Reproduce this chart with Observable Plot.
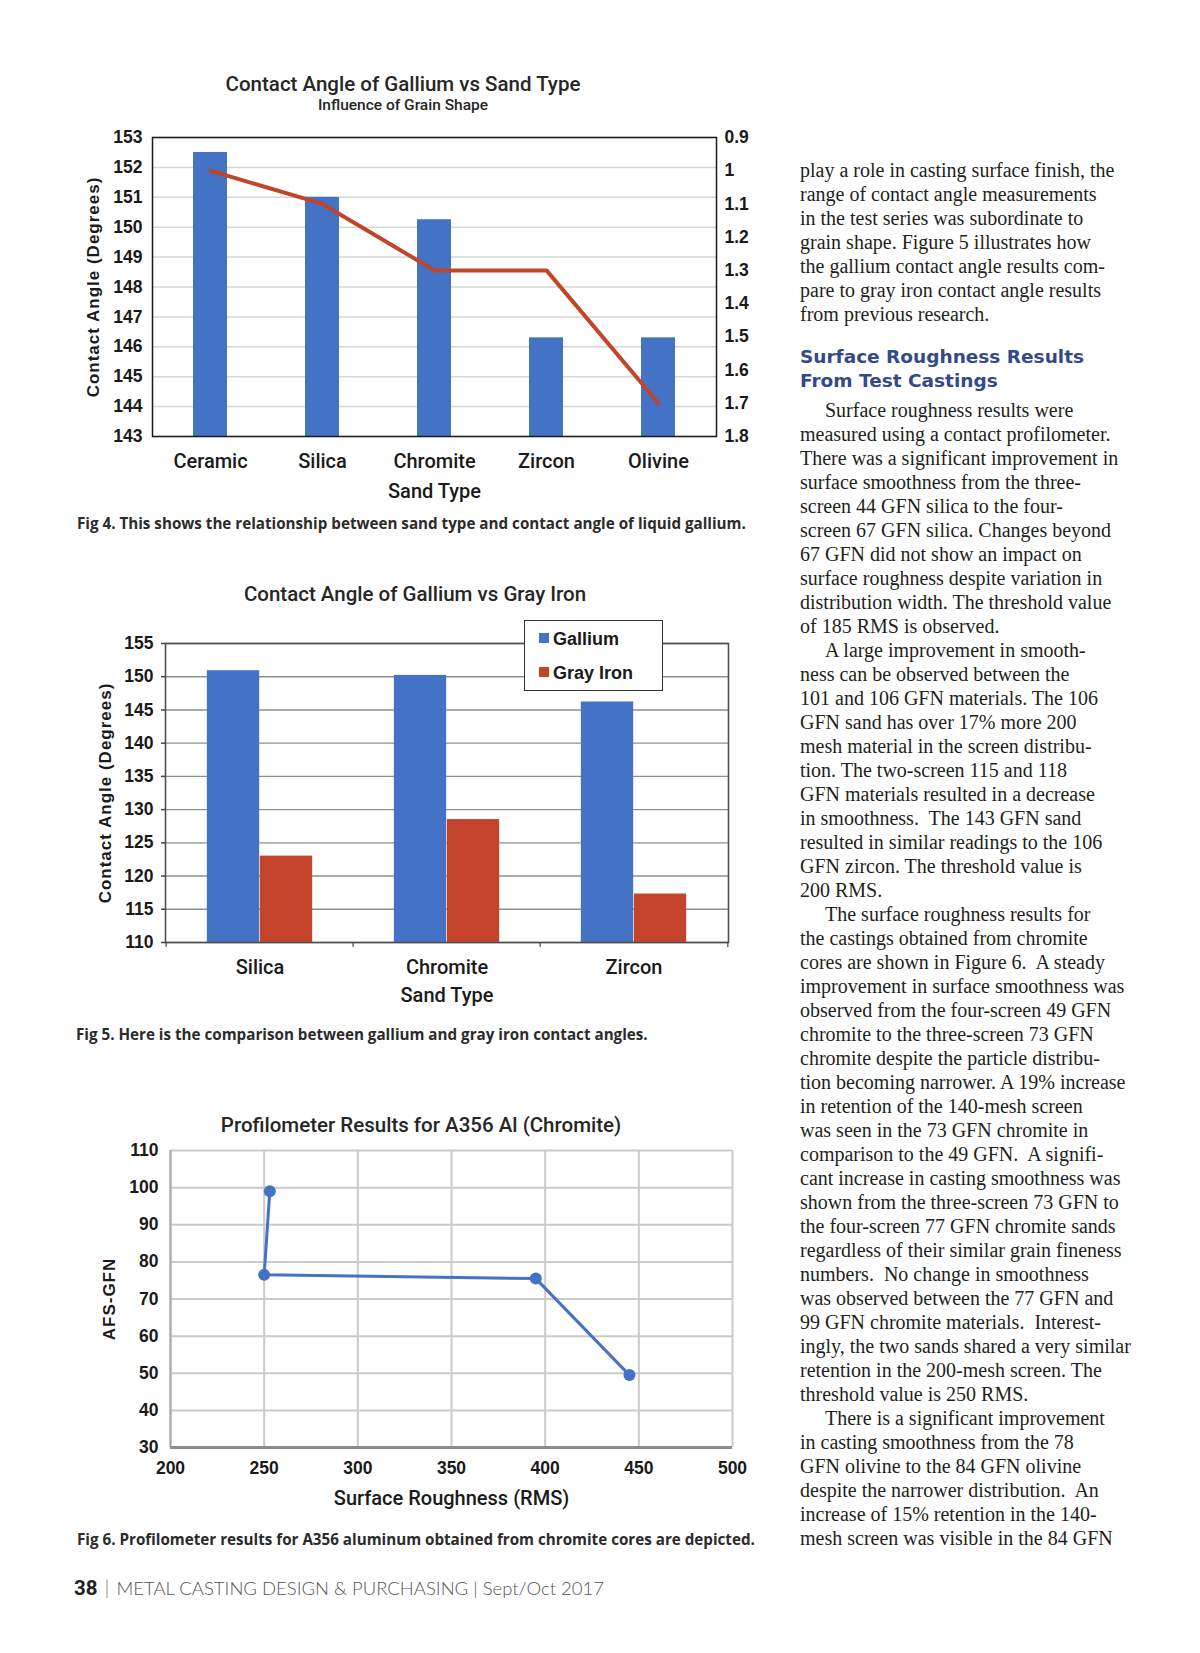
<!DOCTYPE html>
<html><head><meta charset="utf-8">
<script src="https://cdn.jsdelivr.net/npm/d3@7"></script>
<script src="https://cdn.jsdelivr.net/npm/@observablehq/plot@0.6"></script>
<style>
body{margin:0;background:#fff;}
#page{position:relative;width:1200px;height:1653px;background:#fff;overflow:hidden;color:#231f20}
.abs{position:absolute;white-space:nowrap;line-height:1}
.ttl{font-family:Roboto,"Liberation Sans",sans-serif;font-weight:500;color:#262626;transform:translateX(-50%)}
.cap{font-family:"Open Sans",Roboto,"Liberation Sans",sans-serif;font-weight:700;font-size:15.2px;color:#2b2b2b}
.chart{position:absolute}
.chart svg{overflow:visible}
#c1 g[aria-label="y-axis label"] text,#c2 g[aria-label="y-axis label"] text,#c3 g[aria-label="y-axis label"] text{font:bold 17px "Liberation Sans",Arial,sans-serif;letter-spacing:1px}
#c3 g[aria-label="x-axis label"] text{font:500 20px Roboto,"Liberation Sans",sans-serif}
#col{position:absolute;left:800px;top:0;font-family:"Liberation Serif","Times New Roman",serif;font-size:20px;color:#231f20}
#col .blk{position:absolute;left:0;line-height:24px;white-space:pre}
#col .ind{padding-left:25px}
#head{position:absolute;left:800px;top:344.5px;font-family:"DejaVu Sans",sans-serif;font-weight:bold;font-size:18.5px;line-height:24.3px;color:#34498a;white-space:pre}
#legend{position:absolute;left:524px;top:620px;width:137px;height:69px;border:1px solid #333;background:#fff}
#legend .sw{position:absolute;width:10px;height:10px}
#legend .lt{position:absolute;font:bold 18px "Liberation Sans",Arial,sans-serif;line-height:1;color:#1a1a1a;white-space:nowrap}
</style></head>
<body><div id="page">
<div class="abs ttl" style="left:403px;top:74px;font-size:20.5px">Contact Angle of Gallium vs Sand Type</div>
<div class="abs ttl" style="left:403px;top:97.5px;font-size:15.5px">Influence of Grain Shape</div>
<div class="chart" id="c1" style="left:60px;top:110px"></div>
<div class="abs cap" style="left:77px;top:516px">Fig 4. This shows the relationship between sand type and contact angle of liquid gallium.</div>

<div class="abs ttl" style="left:415px;top:584px;font-size:20.5px">Contact Angle of Gallium vs Gray Iron</div>
<div class="chart" id="c2" style="left:60px;top:600px"></div>
<div id="legend"></div>
<div class="abs cap" style="left:76px;top:1026.5px">Fig 5. Here is the comparison between gallium and gray iron contact angles.</div>

<div class="abs ttl" style="left:421px;top:1115px;font-size:20.5px">Profilometer Results for A356 Al (Chromite)</div>
<div class="chart" id="c3" style="left:60px;top:1100px"></div>
<div class="abs cap" style="left:77px;top:1532px">Fig 6. Profilometer results for A356 aluminum obtained from chromite cores are depicted.</div>

<div class="abs" style="left:74px;top:1577px;font-size:20.5px"><span style="font-family:Roboto,sans-serif;font-weight:700;color:#222">38</span><span style="font-family:Lato,sans-serif;font-weight:300;color:#777;margin:0 7px">|</span><span style="font-family:Lato,sans-serif;font-weight:300;color:#555;font-size:18.5px">METAL CASTING DESIGN &amp; PURCHASING | Sept/Oct 2017</span></div>

<div id="head">Surface Roughness Results
From Test Castings</div>
<div id="col"></div>
</div>
<script>
// ---------- Fig 4 data ----------
const sands1 = ["Ceramic", "Silica", "Chromite", "Zircon", "Olivine"];
const angle1 = [152.5, 151.0, 150.25, 146.3, 146.3];
const ratio1 = [1.0, 1.1, 1.3, 1.3, 1.7];          // secondary (right, reversed) axis
const yTicks1 = [143, 144, 145, 146, 147, 148, 149, 150, 151, 152, 153];
const rightTicks1 = [0.9, 1.0, 1.1, 1.2, 1.3, 1.4, 1.5, 1.6, 1.7, 1.8];

// ---------- Fig 5 data ----------
const sands2 = ["Silica", "Chromite", "Zircon"];
const series2 = ["Gallium", "Gray Iron"];
const gallium2 = [150.9, 150.2, 146.2];
const grayIron2 = [123.0, 128.5, 117.3];
const yTicks2 = [110, 115, 120, 125, 130, 135, 140, 145, 150, 155];

// ---------- Fig 6 data ----------
const rms3 = [253, 250, 395, 445];
const gfn3 = [99, 76.5, 75.5, 49.5];
const xTicks3 = [200, 250, 300, 350, 400, 450, 500];
const yTicks3 = [30, 40, 50, 60, 70, 80, 90, 100, 110];

const BLUE = "#4472C4", RED = "#C0462B";
const colors2 = [BLUE, "#C3432B"];
const tickFont = {fontFamily: "'Liberation Sans', Arial, sans-serif", fontWeight: "bold", fontSize: 17.5};
const catFont = {fontFamily: "Roboto, 'Liberation Sans', sans-serif", fontWeight: 500, fontSize: 20};
const baseStyle = {background: "transparent", color: "#1a1a1a", overflow: "visible"};

// ---------- Chart 1 ----------
const data1 = sands1.map((s, i) => ({sand: s, angle: angle1[i], ratio: ratio1[i]}));
const r2l = d3.scaleLinear().domain([rightTicks1[0], rightTicks1[rightTicks1.length - 1]]).range([yTicks1[yTicks1.length - 1], yTicks1[0]]);
const fmtR = d3.format(".1~f");
const c1 = Plot.plot({
  width: 700, height: 400,
  marginLeft: 92, marginRight: 44, marginTop: 27, marginBottom: 74,
  style: baseStyle,
  x: {domain: sands1, paddingInner: 0.7, paddingOuter: 0.35},
  y: {domain: [yTicks1[0], yTicks1[yTicks1.length - 1]]},
  marks: [
    Plot.gridY(yTicks1, {stroke: "#d6d6d6", strokeOpacity: 1, strokeWidth: 1.5}),
    Plot.barY(data1, {x: "sand", y1: yTicks1[0], y2: "angle", fill: BLUE}),
    Plot.line(data1, {x: "sand", y: d => r2l(d.ratio), stroke: RED, strokeWidth: 4, strokeLinejoin: "round"}),
    Plot.frame({stroke: "#1a1a1a", strokeWidth: 1.5}),
    Plot.axisY(yTicks1, {anchor: "left", tickSize: 0, tickPadding: 10, ...tickFont,
      label: "Contact Angle (Degrees)", labelAnchor: "center", labelOffset: 66, labelArrow: "none"}),
    Plot.axisY(rightTicks1.map(r2l), {anchor: "right", tickSize: 0, tickPadding: 8, ...tickFont,
      tickFormat: v => fmtR(r2l.invert(v)), label: null}),
    Plot.axisX({tickSize: 0, tickPadding: 17, ...catFont,
      label: "Sand Type", labelAnchor: "center", labelOffset: 61, labelArrow: "none"})
  ]
});
document.getElementById("c1").append(c1);

// ---------- Chart 2 ----------
const data2 = sands2.flatMap((s, i) => [
  {sand: s, series: series2[0], v: gallium2[i]},
  {sand: s, series: series2[1], v: grayIron2[i]}
]);
const W2 = 700, ML2 = 105, MR2 = 32;
const step2 = (W2 - ML2 - MR2) / sands2.length;
const barW2 = 53;
const c2 = Plot.plot({
  width: W2, height: 420,
  marginLeft: ML2, marginRight: MR2, marginTop: 43, marginBottom: 78,
  style: baseStyle,
  x: {domain: sands2, padding: 0},
  y: {domain: [yTicks2[0], yTicks2[yTicks2.length - 1]]},
  marks: [
    Plot.gridY(yTicks2, {stroke: "#8f8f8f", strokeOpacity: 1, strokeWidth: 1.4}),
    Plot.barY(data2.filter(d => d.series === series2[0]), {x: "sand", y1: yTicks2[0], y2: "v", fill: colors2[0],
      insetLeft: step2 / 2 - barW2, insetRight: step2 / 2}),
    Plot.barY(data2.filter(d => d.series === series2[1]), {x: "sand", y1: yTicks2[0], y2: "v", fill: colors2[1],
      insetLeft: step2 / 2, insetRight: step2 / 2 - barW2}),
    Plot.frame({stroke: "#505050", strokeWidth: 1.6}),
    Plot.axisY(yTicks2, {anchor: "left", tickSize: 4, tickPadding: 8, stroke: "#444", strokeWidth: 1.5, ...tickFont,
      label: "Contact Angle (Degrees)", labelAnchor: "center", labelOffset: 67, labelArrow: "none"}),
    Plot.axisX(sands2, {tickSize: 5, tickFormat: () => "", dx: -step2 / 2, stroke: "#444", strokeWidth: 1.2, label: null}),
    Plot.axisX([sands2[sands2.length - 1]], {tickSize: 5, tickFormat: () => "", dx: step2 / 2, stroke: "#444", strokeWidth: 1.2, label: null}),
    Plot.axisX({tickSize: 0, tickPadding: 17, ...catFont,
      label: "Sand Type", labelAnchor: "center", labelOffset: 59, labelArrow: "none"})
  ]
});
document.getElementById("c2").append(c2);

// legend for chart 2 (built from series + colours)
const leg = document.getElementById("legend");
series2.forEach((name, i) => {
  const sw = document.createElement("div");
  sw.className = "sw"; sw.style.background = colors2[i];
  sw.style.left = "14px"; sw.style.top = (12 + i * 34) + "px";
  const t = document.createElement("div");
  t.className = "lt"; t.textContent = name;
  t.style.left = "28px"; t.style.top = (8.5 + i * 34) + "px";
  leg.append(sw, t);
});

// ---------- Chart 3 ----------
const data3 = rms3.map((x, i) => ({rms: x, gfn: gfn3[i]}));
const c3 = Plot.plot({
  width: 700, height: 420,
  marginLeft: 110, marginRight: 28, marginTop: 50, marginBottom: 73,
  style: baseStyle,
  x: {domain: [xTicks3[0], xTicks3[xTicks3.length - 1]]},
  y: {domain: [yTicks3[0], yTicks3[yTicks3.length - 1]]},
  marks: [
    Plot.gridX(xTicks3, {stroke: "#cbcbcb", strokeOpacity: 1, strokeWidth: 2}),
    Plot.gridY(yTicks3, {stroke: "#cbcbcb", strokeOpacity: 1, strokeWidth: 2}),
    Plot.ruleX([xTicks3[0]], {stroke: "#a8a8a8", strokeWidth: 2}),
    Plot.ruleY([yTicks3[0]], {stroke: "#8c8c8c", strokeWidth: 3}),
    Plot.line(data3, {x: "rms", y: "gfn", stroke: BLUE, strokeWidth: 3}),
    Plot.dot(data3, {x: "rms", y: "gfn", r: 6, fill: BLUE, stroke: null}),
    Plot.axisY(yTicks3, {anchor: "left", tickSize: 0, tickPadding: 12, ...tickFont,
      label: "AFS-GFN", labelAnchor: "center", labelOffset: 68, labelArrow: "none"}),
    Plot.axisX(xTicks3, {tickSize: 0, tickPadding: 14, ...tickFont,
      label: "Surface Roughness (RMS)", labelAnchor: "center", labelOffset: 57, labelArrow: "none"})
  ]
});
document.getElementById("c3").append(c3);

// ---------- Right column text ----------
const para1 = [
  "play a role in casting surface finish, the",
  "range of contact angle measurements",
  "in the test series was subordinate to",
  "grain shape. Figure 5 illustrates how",
  "the gallium contact angle results com-",
  "pare to gray iron contact angle results",
  "from previous research."
];
const para2 = [
  ">Surface roughness results were",
  "measured using a contact profilometer.",
  "There was a significant improvement in",
  "surface smoothness from the three-",
  "screen 44 GFN silica to the four-",
  "screen 67 GFN silica. Changes beyond",
  "67 GFN did not show an impact on",
  "surface roughness despite variation in",
  "distribution width. The threshold value",
  "of 185 RMS is observed.",
  ">A large improvement in smooth-",
  "ness can be observed between the",
  "101 and 106 GFN materials. The 106",
  "GFN sand has over 17% more 200",
  "mesh material in the screen distribu-",
  "tion. The two-screen 115 and 118",
  "GFN materials resulted in a decrease",
  "in smoothness.  The 143 GFN sand",
  "resulted in similar readings to the 106",
  "GFN zircon. The threshold value is",
  "200 RMS.",
  ">The surface roughness results for",
  "the castings obtained from chromite",
  "cores are shown in Figure 6.  A steady",
  "improvement in surface smoothness was",
  "observed from the four-screen 49 GFN",
  "chromite to the three-screen 73 GFN",
  "chromite despite the particle distribu-",
  "tion becoming narrower. A 19% increase",
  "in retention of the 140-mesh screen",
  "was seen in the 73 GFN chromite in",
  "comparison to the 49 GFN.  A signifi-",
  "cant increase in casting smoothness was",
  "shown from the three-screen 73 GFN to",
  "the four-screen 77 GFN chromite sands",
  "regardless of their similar grain fineness",
  "numbers.  No change in smoothness",
  "was observed between the 77 GFN and",
  "99 GFN chromite materials.  Interest-",
  "ingly, the two sands shared a very similar",
  "retention in the 200-mesh screen. The",
  "threshold value is 250 RMS.",
  ">There is a significant improvement",
  "in casting smoothness from the 78",
  "GFN olivine to the 84 GFN olivine",
  "despite the narrower distribution.  An",
  "increase of 15% retention in the 140-",
  "mesh screen was visible in the 84 GFN"
];
function block(lines, top) {
  const b = document.createElement("div");
  b.className = "blk"; b.style.top = top + "px";
  lines.forEach(l => {
    const d = document.createElement("div");
    if (l.startsWith(">")) { d.className = "ind"; d.textContent = l.slice(1); }
    else d.textContent = l;
    b.append(d);
  });
  document.getElementById("col").append(b);
}
block(para1, 158);
block(para2, 397.5);
</script>
</body></html>
